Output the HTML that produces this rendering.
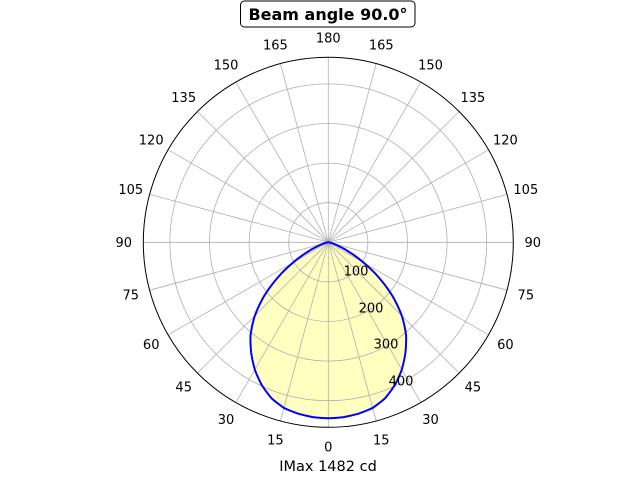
<!DOCTYPE html>
<html><head><meta charset="utf-8"><style>
html,body{margin:0;padding:0;background:#fff;}
svg{display:block;font-family:"DejaVu Sans","Liberation Sans",sans-serif;}
</style></head><body>
<svg id="s" width="640" height="480" xmlns="http://www.w3.org/2000/svg">
<rect x="240.5" y="1" width="174.5" height="26" rx="4" fill="#fff" stroke="#000" stroke-width="1"/>
<text x="328" y="20" text-anchor="middle" font-size="16" font-weight="bold">Beam angle 90.0°</text>
<text x="328" y="471" text-anchor="middle" font-size="14.5">IMax 1482 cd</text>
<g id="g"></g>
</svg>
<script>
var cx=328.3,cy=242.3,R=185,NS="http://www.w3.org/2000/svg",g=document.getElementById('g');
function el(t,a,txt){var e=document.createElementNS(NS,t);for(var k in a)e.setAttribute(k,a[k]);if(txt!=null)e.textContent=txt;g.appendChild(e);return e;}
function pt(th,r){var a=th*Math.PI/180;return [cx+r*Math.sin(a),cy+r*Math.cos(a)];}
var tab=[[0,176],[5,175.5],[10,174],[15,171.5],[20,166],[25,157.5],[30,147],[35,134.5],[40,121],[45,104],[50,84],[55,62],[60,41],[65,23],[70,11],[75,4.5],[80,1.5],[85,0.4],[90,0]];
function rr(t){t=Math.abs(t);for(var i=0;i<tab.length-1;i++){if(t<=tab[i+1][0]){var f=(t-tab[i][0])/(tab[i+1][0]-tab[i][0]);return tab[i][1]+f*(tab[i+1][1]-tab[i][1]);}}return 0;}
var d="";for(var t=-90;t<=90;t+=1){var p=pt(t,rr(t));d+=(t==-90?"M":"L")+p[0].toFixed(2)+","+p[1].toFixed(2);}
el('path',{d:d+"Z",fill:"#ffffc0",stroke:"none"});
for(var i=1;i<=4;i++)el('circle',{cx:cx,cy:cy,r:39.6*i,fill:"none",stroke:"#b0b0b0","stroke-width":0.8});
for(var a=0;a<360;a+=15){var p=pt(a,R);el('line',{x1:cx,y1:cy,x2:p[0],y2:p[1],stroke:"#b0b0b0","stroke-width":0.8});}
el('path',{d:d,fill:"none",stroke:"#0000ff","stroke-width":2,"stroke-linejoin":"round"});
el('circle',{cx:cx,cy:cy,r:R,fill:"none",stroke:"#000","stroke-width":1});
for(var a=-180;a<180;a+=15){var p=pt(a,204.5);el('text',{x:p[0],y:p[1]+4.5,"text-anchor":"middle","font-size":13},String(Math.abs(a)));}
var rl=[[356,271,"100"],[371,308,"200"],[386,344,"300"],[401,381,"400"]];
rl.forEach(function(q){el('text',{x:q[0],y:q[1]+4.5,"text-anchor":"middle","font-size":13},q[2]);});
</script>
</body></html>
